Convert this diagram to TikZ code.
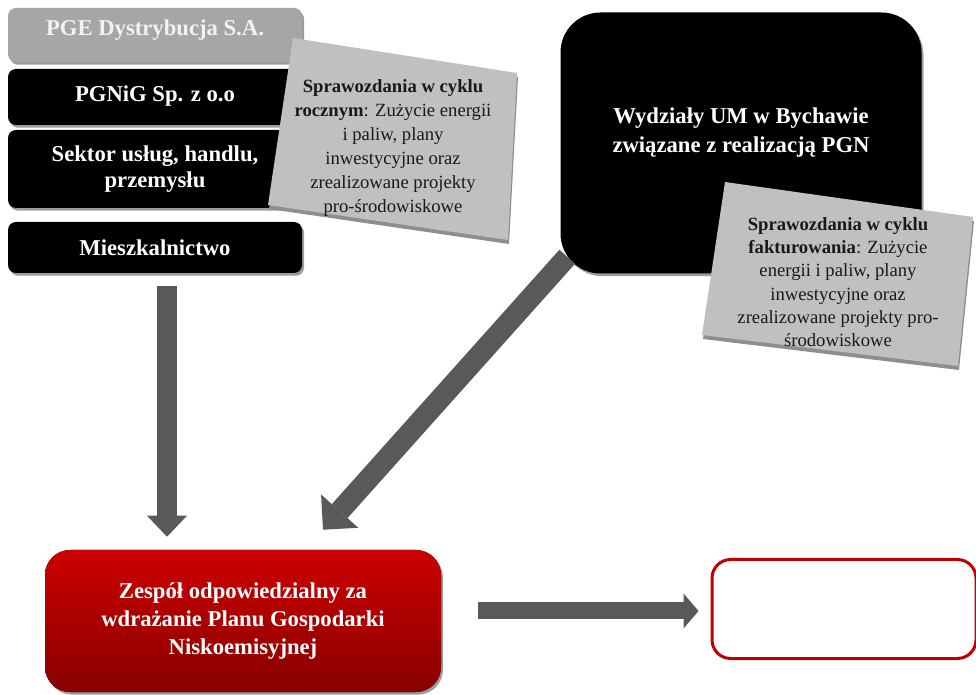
\documentclass[tikz,border=0pt]{standalone}
\usepackage{fontspec}
\setmainfont{Liberation Serif}
\usepackage{tikz,pgf}
\usetikzlibrary{calc}
\usetikzlibrary{shadows}
\usetikzlibrary{arrows.meta}
\usepackage{xcolor}
\definecolor{pgegray}{HTML}{A6A6A6}
\definecolor{pgetext}{HTML}{F2F2F2}
\definecolor{boxshadow}{HTML}{9C9C9C}
\definecolor{arrowgray}{HTML}{595959}
\definecolor{notegray}{HTML}{C0C0C0}
\definecolor{noteshadow}{HTML}{8E8E8E}
\definecolor{redtop}{HTML}{CC0000}
\definecolor{redbottom}{HTML}{880000}
\definecolor{redline}{HTML}{C00000}
\tikzset{
  orgbox/.style={rounded corners=6pt, fill=black, text=white, minimum width=220.5pt,
    font=\bfseries\fontsize{17}{20}\selectfont, align=center, inner sep=0pt,
    drop shadow={shadow xshift=1.5pt, shadow yshift=-2pt, fill=boxshadow, opacity=1}},
  notetext/.style={align=center, text=black!90, inner sep=0pt},
  blockarrow/.style={draw=arrowgray},
}

\begin{document}
\begin{tikzpicture}[x=0.75pt,y=-0.75pt]
      \fill[white] (0,0) rectangle (976,695);
      \useasboundingbox (0,0) rectangle (976,695);

      \node[orgbox, fill=pgegray, text=pgetext, minimum height=40.5pt, text depth=11.5pt] (pge) at (155,35) {PGE Dystrybucja S.A.};
      \node[orgbox, minimum height=42pt, text depth=5pt] (pgnig) at (155,97) {PGNiG Sp. z o.o};
      \node[orgbox, minimum height=58.5pt] (sektor) at (155,169) {Sektor usług, handlu,\\ przemysłu};
      \node[orgbox, minimum height=38.25pt] (miesz) at (155,247.5) {Mieszkalnictwo};

      \fill[noteshadow] (294,42) -- (518,77) -- (509,244) -- (269,209) -- cycle;
      \fill[notegray] (293,38) -- (517,73) -- (508,240) -- (268,205) -- cycle;
      \node[notetext, font=\fontsize{14}{18}\selectfont] (rocz) at (393,148.5)
        {\textbf{Sprawozdania w cyklu}\\ \textbf{rocznym}: Zużycie energii\\ i paliw, plany\\ inwestycyjne oraz\\ zrealizowane projekty\\ pro-środowiskowe};

      \node[orgbox, rounded corners=30pt, minimum width=270.75pt, minimum height=195.75pt,
        font=\bfseries\fontsize{17}{21.5}\selectfont, text height=33pt, text depth=19pt] (wydz) at (741,143)
        {Wydziały UM w Bychawie\\ związane z realizacją PGN};

      \fill[noteshadow] (726,186) -- (974,221) -- (959,370) -- (703,339) -- cycle;
      \fill[notegray] (725,182) -- (973,217) -- (958,366) -- (702,335) -- cycle;
      \node[notetext, font=\fontsize{14}{17.5}\selectfont] (fakt) at (838,282)
        {\textbf{Sprawozdania w cyklu}\\ \textbf{fakturowania}: Zużycie\\ energii i paliw, plany\\ inwestycyjne oraz\\ zrealizowane projekty pro-\\ środowiskowe};

      \node[orgbox, rounded corners=18.75pt, top color=redtop, bottom color=redbottom,
        minimum width=297pt, minimum height=106.5pt,
        font=\bfseries\fontsize{17}{21}\selectfont] (zesp) at (243,621)
        {Zespół odpowiedzialny za\\ wdrażanie Planu Gospodarki\\ Niskoemisyjnej};
      \node[draw=redline, line width=2.25pt, rounded corners=14pt, fill=white,
        minimum width=198pt, minimum height=74.25pt] (wynik) at (844,609) {};

      \draw[blockarrow, line width=15pt, -{Triangle[length=15.75pt, width=30pt, line width=0pt]}]
        ($(miesz.south)+(12,13)$) -- ($(zesp.north)+(-76,-13)$);
      \draw[blockarrow, line width=15.75pt, -{Triangle[length=18.75pt, width=37.5pt, line width=0pt]}]
        ($(wydz.south west)+(7,-17)$) -- ($(zesp.north)+(80,-20)$);
      \draw[blockarrow, line width=12.75pt, -{Triangle[length=11.25pt, width=26.25pt, line width=0pt]}]
        ($(zesp.east)+(37,-10)$) -- ($(wynik.west)+(-12,2)$);
    \end{tikzpicture}
\end{document}
